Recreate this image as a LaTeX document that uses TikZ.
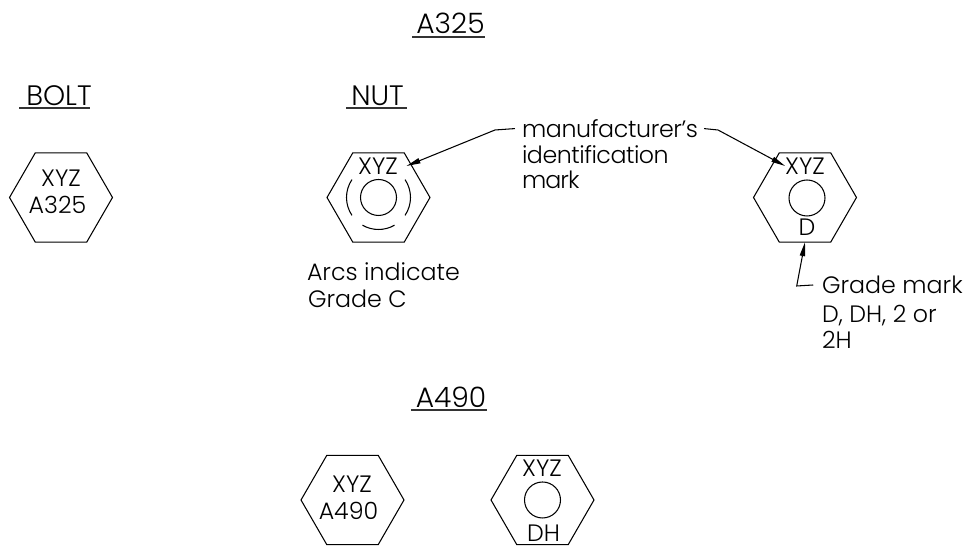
\documentclass[tikz,border=0pt]{standalone}
\usepackage{fontspec}
\setmainfont{Poppins}[UprightFont=* Light]
\usepackage{tikz}
\usetikzlibrary{shapes.geometric,arrows.meta}
\tikzset{
  hexnut/.style={regular polygon,regular polygon sides=6,draw=black,line width=0.6pt,minimum size=2.06cm,inner sep=0pt,outer sep=0pt},
  hole/.style={circle,draw=black,line width=0.6pt,minimum size=0.72cm,inner sep=0pt,outer sep=0pt},
  txt/.style={inner sep=0pt,outer sep=0pt,text height=9.6pt,text depth=0pt,font=\fontsize{13.5}{13.5}\selectfont},
  hdr/.style={inner xsep=0pt,inner ysep=1.5pt,outer sep=0pt,text height=11.4pt,text depth=0pt,font=\fontsize{16}{16}\selectfont},
  leader/.style={line width=0.6pt,-{Stealth[inset=0pt,length=8pt,width=3pt]}},
  rule/.style={line width=1pt,draw=black!80}
}
\begin{document}
\begin{tikzpicture}[x=0.02cm,y=0.02cm]
\useasboundingbox (0,0) rectangle (974,546);

% headings
\node[hdr] (a325) at (450.5,522) {A325};
\node[hdr] (bolt) at (59,451) {BOLT};
\node[hdr] (nut) at (377.5,451) {NUT};
\node[hdr] (a490) at (451,149) {A490};
\draw[rule] ([xshift=-2.3pt]a325.south west) -- (a325.south east);
\draw[rule] ([xshift=-4pt]bolt.south west) -- ([xshift=-1.1pt]bolt.south east);
\draw[rule] ([xshift=-2.8pt]nut.south west) -- ([xshift=1.7pt]nut.south east);
\draw[rule] ([xshift=-2.8pt]a490.south west) -- ([xshift=0.6pt]a490.south east);

% A325 bolt
\node[hexnut] (hexa) at (61,348.5) {};
\node[txt] (xyza) at (61,368) {XYZ};
\node[txt] (gradea) at (57.5,341) {A325};

% A325 nut, arcs
\node[hexnut] (hexb) at (378.5,348.5) {};
\node[hole] (holeb) at (hexb.center) {};
\node[txt] (xyzb) at (378,380) {XYZ};
\draw[line width=0.6pt] ([shift={(146:32)}]hexb.center) arc[start angle=146,end angle=214,radius=32];
\draw[line width=0.6pt] ([shift={(-34:32)}]hexb.center) arc[start angle=-34,end angle=34,radius=32];
\draw[line width=0.6pt] ([shift={(-120:32)}]hexb.center) arc[start angle=-120,end angle=-60,radius=32];
\node[txt,anchor=west] (arcsa) at (307,273.5) {Arcs indicate};
\node[txt,anchor=west] (arcsb) at (308,246.5) {Grade C};

% A325 nut, grade mark
\node[hexnut] (hexc) at (805,348.5) {};
\node[hole] (holec) at (807,348) {};
\node[txt] (xyzc) at (805,380) {XYZ};
\node[txt] (dmark) at (807,318.5) {D};
\node[txt,anchor=west] (gmarka) at (822,261) {Grade mark};
\node[txt,anchor=west] (gmarkb) at (822,231.5) {D, DH, 2 or};
\node[txt,anchor=west] (gmarkc) at (822,205.5) {2H};

% manufacturer label
\node[txt,anchor=west] (mfra) at (522,417.4) {\addfontfeature{LetterSpace=-1.5}manufacturer's};
\node[txt,anchor=west] (mfrb) at (522,391.4) {\addfontfeature{LetterSpace=-2}identification};
\node[txt,anchor=west] (mfrc) at (522,366.4) {\addfontfeature{LetterSpace=-4}mark};

% leaders
\coordinate (bendl) at (495,416);
\coordinate (bendr) at (718,416);
\coordinate (tipl) at (406.5,380);
\coordinate (bendg) at (796.7,260);
\draw[leader] ([xshift=-4pt]mfra.west) -- (bendl) -- (tipl);
\draw[leader] ([xshift=3.4pt]mfra.east) -- (bendr) -- (xyzc.west);
\draw[leader] ([xshift=-5pt]gmarka.west) -- (bendg) -- (hexc.south);

% A490
\node[hexnut] (hexd) at (352.5,46) {};
\node[txt] (xyzd) at (352,61.5) {XYZ};
\node[txt] (graded) at (348.5,35) {A490};
\node[hexnut] (hexe) at (542.5,46) {};
\node[hole] (holee) at (hexe.center) {};
\node[txt] (xyze) at (542,78) {XYZ};
\node[txt] (dhmark) at (543.5,12.5) {DH};
\end{tikzpicture}
\end{document}
